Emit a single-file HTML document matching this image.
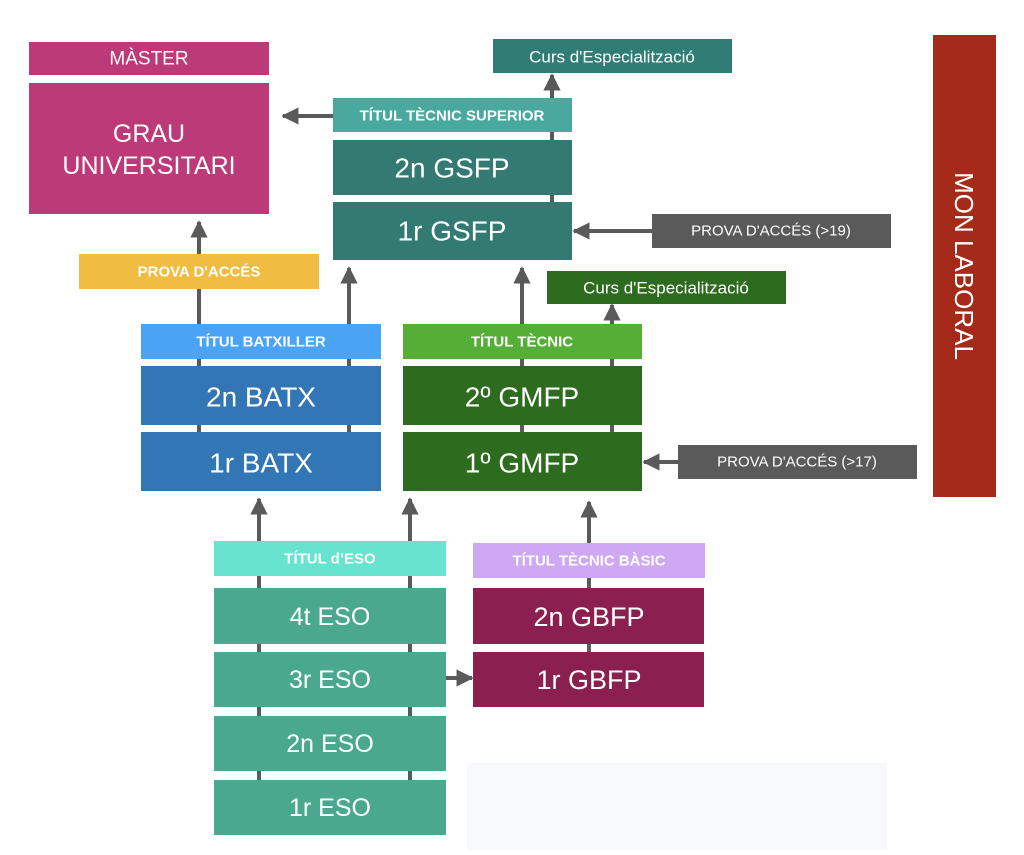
<!DOCTYPE html>
<html><head><meta charset="utf-8"><style>
html,body{margin:0;padding:0;background:#fff;}
svg text{font-family:"Liberation Sans",sans-serif;fill:#fff;text-anchor:middle;dominant-baseline:central;}
</style></head><body>
<svg width="1024" height="850" viewBox="0 0 1024 850" xmlns="http://www.w3.org/2000/svg">
<defs><marker id="a" viewBox="0 0 10 10" refX="9" refY="5" markerWidth="4.3" markerHeight="4.3" orient="auto-start-reverse"><path d="M0,0 L10,5 L0,10 z" fill="#5a5a5a"/></marker></defs>
<rect x="467" y="763" width="420" height="87" fill="#f8f9fc"/>
<g stroke="#5a5a5a" stroke-width="4" fill="none" marker-end="url(#a)">
<line x1="199" y1="490" x2="199" y2="222"/>
<line x1="349" y1="490" x2="349" y2="268"/>
<line x1="522" y1="490" x2="522" y2="268"/>
<line x1="612" y1="490" x2="612" y2="305"/>
<line x1="552" y1="258" x2="552" y2="75"/>
<line x1="333" y1="116" x2="283" y2="116"/>
<line x1="652" y1="231" x2="574" y2="231"/>
<line x1="678" y1="462" x2="644" y2="462"/>
<line x1="259" y1="834" x2="259" y2="499"/>
<line x1="410" y1="834" x2="410" y2="499"/>
<line x1="589" y1="705" x2="589" y2="502"/>
<line x1="446" y1="678" x2="472" y2="678"/>
</g>
<rect x="29" y="42" width="240" height="33" fill="#bd3a78"/><text x="149" y="59" font-size="19">MÀSTER</text>
<rect x="29" y="83" width="240" height="131" fill="#bd3a78"/><text x="149" y="134" font-size="25">GRAU</text><text x="149" y="166" font-size="25">UNIVERSITARI</text>
<rect x="493" y="39" width="239" height="34" fill="#2f7d74"/><text x="612" y="57" font-size="17">Curs d'Especialització</text>
<rect x="333" y="98" width="239" height="34" fill="#4aa99e"/><text x="452" y="116" font-size="15" font-weight="bold">TÍTUL TÈCNIC SUPERIOR</text>
<rect x="333" y="140" width="239" height="55" fill="#327a72"/><text x="452" y="168" font-size="28">2n GSFP</text>
<rect x="333" y="202" width="239" height="58" fill="#327a72"/><text x="452" y="231" font-size="28">1r GSFP</text>
<rect x="652" y="214" width="239" height="34" fill="#5a5a5a"/><text x="771" y="231" font-size="15">PROVA D'ACCÉS (&gt;19)</text>
<rect x="79" y="254" width="240" height="35" fill="#f0bd42"/><text x="199" y="272" font-size="15" font-weight="bold">PROVA D'ACCÉS</text>
<rect x="547" y="271" width="239" height="33" fill="#2d6b1e"/><text x="666" y="288" font-size="17">Curs d'Especialització</text>
<rect x="141" y="324" width="240" height="35" fill="#4aa3f5"/><text x="261" y="342" font-size="15" font-weight="bold">TÍTUL BATXILLER</text>
<rect x="141" y="366" width="240" height="59" fill="#3276b5"/><text x="261" y="397" font-size="28">2n BATX</text>
<rect x="141" y="432" width="240" height="59" fill="#3276b5"/><text x="261" y="463" font-size="28">1r BATX</text>
<rect x="403" y="324" width="239" height="35" fill="#55ae35"/><text x="522" y="342" font-size="15" font-weight="bold">TÍTUL TÈCNIC</text>
<rect x="403" y="366" width="239" height="59" fill="#2d6b1e"/><text x="522" y="397" font-size="28">2º GMFP</text>
<rect x="403" y="432" width="239" height="59" fill="#2d6b1e"/><text x="522" y="463" font-size="28">1º GMFP</text>
<rect x="678" y="445" width="239" height="34" fill="#5a5a5a"/><text x="797" y="462" font-size="15">PROVA D'ACCÉS (&gt;17)</text>
<rect x="933" y="35" width="63" height="462" fill="#a52a1a"/><text x="964" y="266" font-size="26" transform="rotate(90 964 266)">MON LABORAL</text>
<rect x="214" y="541" width="232" height="35" fill="#68e3cf"/><text x="330" y="559" font-size="15" font-weight="bold">TÍTUL d’ESO</text>
<rect x="214" y="588" width="232" height="56" fill="#4aa88f"/><text x="330" y="617" font-size="25">4t ESO</text>
<rect x="214" y="652" width="232" height="55" fill="#4aa88f"/><text x="330" y="680" font-size="25">3r ESO</text>
<rect x="214" y="716" width="232" height="55" fill="#4aa88f"/><text x="330" y="744" font-size="25">2n ESO</text>
<rect x="214" y="780" width="232" height="55" fill="#4aa88f"/><text x="330" y="808" font-size="25">1r ESO</text>
<rect x="473" y="543" width="232" height="35" fill="#cfa8f3"/><text x="589" y="561" font-size="15" font-weight="bold">TÍTUL TÈCNIC BÀSIC</text>
<rect x="473" y="588" width="231" height="56" fill="#8b1f50"/><text x="589" y="617" font-size="27">2n GBFP</text>
<rect x="473" y="652" width="231" height="55" fill="#8b1f50"/><text x="589" y="680" font-size="27">1r GBFP</text>
</svg>
</body></html>
